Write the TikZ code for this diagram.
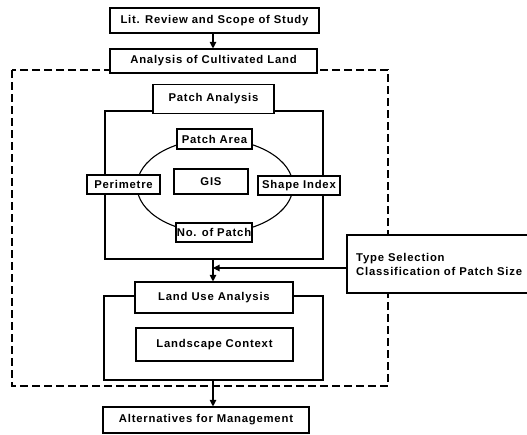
\documentclass[tikz,border=0pt]{standalone}
\usepackage{fontspec}
\setmainfont{Liberation Sans}[LetterSpace=7]
\usetikzlibrary{arrows.meta,calc,shapes.geometric}
\begin{document}
\begin{tikzpicture}[x=1pt,y=-1pt,
  every node/.style={font=\fontsize{11.3}{13}\selectfont\bfseries},
  bx/.style={draw,line width=1.1pt,fill=white,inner sep=0pt},
  frame/.style={draw,line width=1.1pt},
  dashframe/.style={draw,line width=1.4pt,dash pattern=on 8pt off 4pt},
  arr/.style={line width=1.1pt,-{Triangle[length=6.5pt,width=6.5pt]}},
  lbl/.style={inner sep=0pt}]
\useasboundingbox (0,0) rectangle (527,434);
% dashed frame
\draw[dashframe] (12,70) rectangle (388,386);
% outer patch frame
\draw[frame,fill=white] (105,111) rectangle (323,259);
% land use frame
\draw[frame,fill=white] (104,296) rectangle (323,380);
% ellipse
\node[draw,line width=1.1pt,ellipse,minimum width=156pt,minimum height=94pt,inner sep=0pt] (ell) at (215,186) {};
% boxes
\node[bx,minimum width=209pt,minimum height=25pt] (lit) at (214.5,20.5) {Lit. Review and Scope of Study};
\node[bx,minimum width=207pt,minimum height=24pt] (cult) at (213.5,61) {Analysis of Cultivated Land};
\node[bx,minimum width=121pt,minimum height=29pt] (patch) at (213.5,99) {Patch Analysis};
\node[bx,minimum width=75pt,minimum height=20pt] (area) at (214.5,139) {Patch Area};
\node[bx,minimum width=74pt,minimum height=25pt] (gis) at (211,181.5) {GIS};
\node[bx,minimum width=73pt,minimum height=19pt] (peri) at (123.5,184.5) {Perimetre};
\node[bx,minimum width=82pt,minimum height=19pt] (shape) at (299,185.5) {Shape Index};
\node[bx,minimum width=76pt,minimum height=19pt] (nopatch) at (214,232.5) {No. of Patch};
\node[bx,minimum width=185pt,minimum height=58pt] (type) at (439.5,264) {};
\node[lbl,anchor=north west,align=left,font=\fontsize{11.3}{14}\selectfont\bfseries] (typetxt) at (356,253) {Type Selection\\Classification of Patch Size};
\node[bx,minimum width=158pt,minimum height=31pt] (landuse) at (214,297.5) {Land Use Analysis};
\node[bx,minimum width=157pt,minimum height=33pt] (context) at (214.5,344.5) {Landscape Context};
\node[bx,minimum width=206pt,minimum height=26pt] (alt) at (206,420) {Alternatives for Management};
% connector anchors
\coordinate (pbot) at (213,259);
\coordinate (lubot) at (213,380);
\coordinate (join) at (213,268);
% arrows
\draw[arr] (lit.south -| pbot) -- (cult.north -| pbot);
\draw[arr] (pbot) -- (landuse.north -| pbot);
\draw[arr] (type.west |- join) -- (join);
\draw[arr] (lubot) -- (alt.north -| lubot);
\end{tikzpicture}
\end{document}
